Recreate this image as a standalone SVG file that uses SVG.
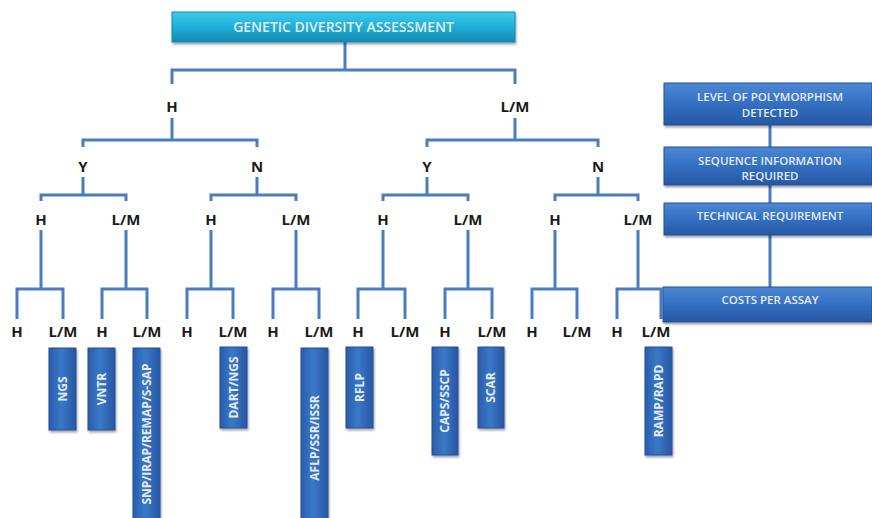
<svg xmlns="http://www.w3.org/2000/svg" width="872" height="518" viewBox="0 0 872 518">
<defs>
<linearGradient id="gTop" x1="0" y1="0" x2="0" y2="1">
<stop offset="0" stop-color="#3fcaea"/><stop offset="0.5" stop-color="#1eb0d8"/><stop offset="1" stop-color="#1489b0"/>
</linearGradient>
<linearGradient id="gBlue" x1="0" y1="0" x2="0" y2="1">
<stop offset="0" stop-color="#4d88d4"/><stop offset="0.5" stop-color="#336fc2"/><stop offset="1" stop-color="#2757a3"/>
</linearGradient>
<linearGradient id="gBlueV" x1="0" y1="0" x2="1" y2="0">
<stop offset="0" stop-color="#2a5da9"/><stop offset="0.45" stop-color="#3a78c8"/><stop offset="1" stop-color="#2757a3"/>
</linearGradient>
<filter id="sh" x="-10%" y="-10%" width="130%" height="130%">
<feDropShadow dx="1" dy="2" stdDeviation="1.2" flood-color="#000" flood-opacity="0.35"/>
</filter>
</defs>
<style>
.ln{fill:none;stroke:#4a7cc0;stroke-width:3}
.lbl{font-family:"Open Sans","Liberation Sans",sans-serif;font-weight:700;font-size:15px;fill:#1a1a1a;text-anchor:middle}
.bx{fill:url(#gBlue);stroke:#23509a;stroke-width:1;filter:url(#sh)}
.vbx{fill:url(#gBlueV);stroke:#23509a;stroke-width:1;filter:url(#sh)}
.bt{font-family:"Open Sans","Liberation Sans",sans-serif;font-weight:600;font-size:11.5px;fill:#e3ebf7;text-anchor:middle}
.vt{font-family:"Open Sans","Liberation Sans",sans-serif;font-weight:700;font-size:12px;fill:#e3ebf7;text-anchor:middle}
</style>

<g id="connectors">
<path class="ln" d="M345 42V70M172 84V70H515V84"/>
<path class="ln" d="M172 118V140M83 147V140H257V147"/>
<path class="ln" d="M515 118V140M427 147V140H598V147"/>
<path class="ln" d="M83 177V195M41 201V195H126V201"/>
<path class="ln" d="M257 177V195M211 201V195H296V201"/>
<path class="ln" d="M427 177V195M383 201V195H468V201"/>
<path class="ln" d="M598 177V195M555 201V195H638V201"/>
<path class="ln" d="M41 230V289M17 319V289H63V319"/>
<path class="ln" d="M126 230V289M102 319V289H147V319"/>
<path class="ln" d="M211 230V289M187 319V289H233V319"/>
<path class="ln" d="M296 230V289M273 319V289H319V319"/>
<path class="ln" d="M383 230V289M358 319V289H405V319"/>
<path class="ln" d="M468 230V289M445 319V289H492V319"/>
<path class="ln" d="M555 230V289M532 319V289H577V319"/>
<path class="ln" d="M638 230V289M617 319V289H661V319"/>
<path class="ln" d="M770 125V147M770 185V203M770 235V287"/>
</g>

<g id="root">
<rect x="172" y="12" width="343" height="30" fill="url(#gTop)" stroke="#138ab0" stroke-width="1" filter="url(#sh)"/>
<text class="bt" x="343.5" y="32" style="font-size:14px">GENETIC DIVERSITY ASSESSMENT</text>
</g>

<g id="labels">
<text class="lbl" x="172" y="112">H</text>
<text class="lbl" x="515" y="112">L/M</text>
<text class="lbl" x="83" y="172">Y</text>
<text class="lbl" x="257" y="172">N</text>
<text class="lbl" x="427" y="172">Y</text>
<text class="lbl" x="598" y="172">N</text>
<text class="lbl" x="41" y="225">H</text>
<text class="lbl" x="126" y="225">L/M</text>
<text class="lbl" x="211" y="225">H</text>
<text class="lbl" x="296" y="225">L/M</text>
<text class="lbl" x="383" y="225">H</text>
<text class="lbl" x="468" y="225">L/M</text>
<text class="lbl" x="555" y="225">H</text>
<text class="lbl" x="638" y="225">L/M</text>
<text class="lbl" x="17" y="337">H</text>
<text class="lbl" x="63" y="337">L/M</text>
<text class="lbl" x="102" y="337">H</text>
<text class="lbl" x="147" y="337">L/M</text>
<text class="lbl" x="187" y="337">H</text>
<text class="lbl" x="233" y="337">L/M</text>
<text class="lbl" x="273" y="337">H</text>
<text class="lbl" x="319" y="337">L/M</text>
<text class="lbl" x="358" y="337">H</text>
<text class="lbl" x="405" y="337">L/M</text>
<text class="lbl" x="445" y="337">H</text>
<text class="lbl" x="492" y="337">L/M</text>
<text class="lbl" x="532" y="337">H</text>
<text class="lbl" x="577" y="337">L/M</text>
<text class="lbl" x="617" y="337">H</text>
<text class="lbl" x="656" y="337">L/M</text>
</g>

<g id="legend-polymorphism">
<rect class="bx" x="664" y="83" width="208" height="42"/>
<text class="bt" x="770" y="101">LEVEL OF POLYMORPHISM</text>
<text class="bt" x="770" y="117">DETECTED</text>
</g>
<g id="legend-sequence">
<rect class="bx" x="664" y="147" width="208" height="38"/>
<text class="bt" x="770" y="165">SEQUENCE INFORMATION</text>
<text class="bt" x="770" y="180">REQUIRED</text>
</g>
<g id="legend-technical">
<rect class="bx" x="664" y="203" width="208" height="32"/>
<text class="bt" x="770" y="220">TECHNICAL REQUIREMENT</text>
</g>
<g id="legend-costs">
<rect class="bx" x="663" y="287" width="209" height="35"/>
<text class="bt" x="770" y="304">COSTS PER ASSAY</text>
</g>

<g id="m-ngs"><rect class="vbx" x="49" y="348" width="27" height="82"/><text class="vt" transform="translate(66.5 389) rotate(-90)">NGS</text></g>
<g id="m-vntr"><rect class="vbx" x="88" y="348" width="27" height="82"/><text class="vt" transform="translate(105.5 389) rotate(-90)">VNTR</text></g>
<g id="m-snp"><rect class="vbx" x="133" y="348" width="27" height="175"/><text class="vt" transform="translate(150.5 434) rotate(-90)">SNP/IRAP/REMAP/S-SAP</text></g>
<g id="m-dart"><rect class="vbx" x="220" y="347" width="27" height="81"/><text class="vt" transform="translate(237.5 387.5) rotate(-90)">DART/NGS</text></g>
<g id="m-aflp"><rect class="vbx" x="301" y="348" width="27" height="175"/><text class="vt" transform="translate(318.5 438) rotate(-90)">AFLP/SSR/ISSR</text></g>
<g id="m-rflp"><rect class="vbx" x="346" y="347" width="27" height="81"/><text class="vt" transform="translate(363.5 387.5) rotate(-90)">RFLP</text></g>
<g id="m-caps"><rect class="vbx" x="432" y="347" width="26" height="108"/><text class="vt" transform="translate(449 401) rotate(-90)">CAPS/SSCP</text></g>
<g id="m-scar"><rect class="vbx" x="478" y="347" width="26" height="81"/><text class="vt" transform="translate(495 387.5) rotate(-90)">SCAR</text></g>
<g id="m-ramp"><rect class="vbx" x="645" y="347" width="27" height="108"/><text class="vt" transform="translate(662.5 401) rotate(-90)">RAMP/RAPD</text></g>
</svg>
